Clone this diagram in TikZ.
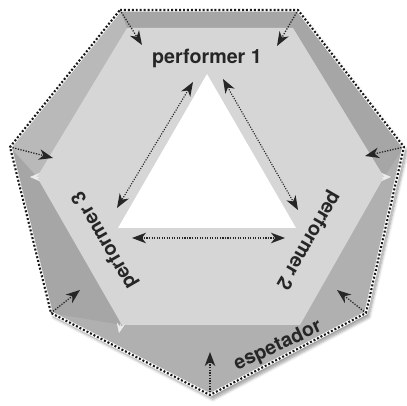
\documentclass[tikz,border=0pt]{standalone}
\usepackage{fontspec}
\setmainfont{TeX Gyre Heros}
\usetikzlibrary{arrows.meta, calc, shadows.blur}

\definecolor{facelight}{HTML}{D6D6D6}
\definecolor{facemid}{HTML}{B0B0B0}
\definecolor{facedark}{HTML}{A6A6A6}
\definecolor{faceside}{HTML}{B9B9B9}

\begin{document}
\begin{tikzpicture}[x=0.025cm, y=0.025cm,
	look/.style={densely dotted, line width=0.9pt, black!85, -{Stealth[length=10pt, width=7.5pt, inset=3pt]}},
	both/.style={densely dotted, line width=0.8pt, black!85, {Stealth[length=10pt, width=7.5pt, inset=3pt]}-{Stealth[length=10pt, width=7.5pt, inset=3pt]}},
	ghost/.style={white!85!gray, line width=0.4pt, -{Stealth[length=7pt, width=6pt, inset=2.5pt]}},
	lbl/.style={font=\fontsize{14}{16}\selectfont\bfseries, text=black!85, inner sep=0pt}]
	\useasboundingbox (0,0) rectangle (407,406);
	
	% outer ring (spectator) and inner stage
	\coordinate (A) at (120,396);
	\coordinate (B) at (298,396);
	\coordinate (C) at (404,259);
	\coordinate (D) at (366,93);
	\coordinate (E) at (210,11);
	\coordinate (F) at (51,93);
	\coordinate (G) at (10,259);
	\coordinate (H1) at (127,378);
	\coordinate (H2) at (293,378);
	\coordinate (H3) at (384,229);
	\coordinate (H4) at (300,81);
	\coordinate (H5) at (122,81);
	\coordinate (H6) at (37,229);
	
	\fill[facemid, blur shadow={shadow xshift=2pt, shadow yshift=-3pt, shadow blur steps=8, shadow opacity=40}]
		(A) -- (B) -- (C) -- (D) -- (E) -- (F) -- (G) -- cycle;
	\fill[facedark] (A) -- (B) -- (H2) -- (H1) -- cycle;
	\fill[faceside] (A) -- (H1) -- (H6) -- (G) -- cycle;
	\fill[facedark] (G) -- (H6) -- (H5) -- (F) -- cycle;
	\fill[facedark] (B) -- (C) -- (H3) -- (H2) -- cycle;
	\fill[facelight] (H1) -- (H2) -- (H3) -- (H4) -- (H5) -- (H6) -- cycle;
	
	\draw[white, line width=2.4pt, line join=round] (A) -- (B) -- (C) -- (D) -- (E) -- (F) -- (G) -- cycle;
	\draw[black!90, line width=1.5pt, dash pattern=on 1.4pt off 1.4pt, line join=round]
		(A) -- (B) -- (C) -- (D) -- (E) -- (F) -- (G) -- cycle;
	
	\draw[ghost] ($(H6)+(2,0)$) -- ($(H6)+(-7,0)$);
	\draw[ghost] ($(H3)+(-2,0)$) -- ($(H3)+(7,0)$);
	\draw[ghost] ($(H5)+(-1,2)$) -- ($(H5)+(-3,-8)$);
	
	% the stage
	\fill[white] (207,332) coordinate (T1) -- (118,178) coordinate (T3) -- (296,178) coordinate (T2) -- cycle;
	
	\node[lbl] (p1) at (207,348) {performer 1};
	\node[lbl, rotate=-120] (p2) at (308,166) {performer 2};
	\node[lbl, rotate=120] (p3) at (105,166) {performer 3};
	\node[lbl, rotate=25] (sp) at (278,60) {espetador};
	
	% performers look at each other
	\coordinate (a1) at (193,324);
	\coordinate (a3) at (117,198);
	\coordinate (b1) at (223,327);
	\coordinate (b2) at (298,196);
	\coordinate (c3) at (132,168);
	\coordinate (c2) at (285,168);
	\draw[both] (a1) -- (a3);
	\draw[both] (b1) -- (b2);
	\draw[both] (c3) -- (c2);
	
	% the spectator looks in
	\draw[look] (A) -- (142,361);
	\draw[look] (B) -- (277,360);
	\draw[look] (C) -- (365,250);
	\draw[look] (D) -- (337,116);
	\draw[look] (E) -- (210,54);
	\draw[look] (F) -- (80,116);
	\draw[look] (G) -- (53,248);
\end{tikzpicture}
\end{document}
